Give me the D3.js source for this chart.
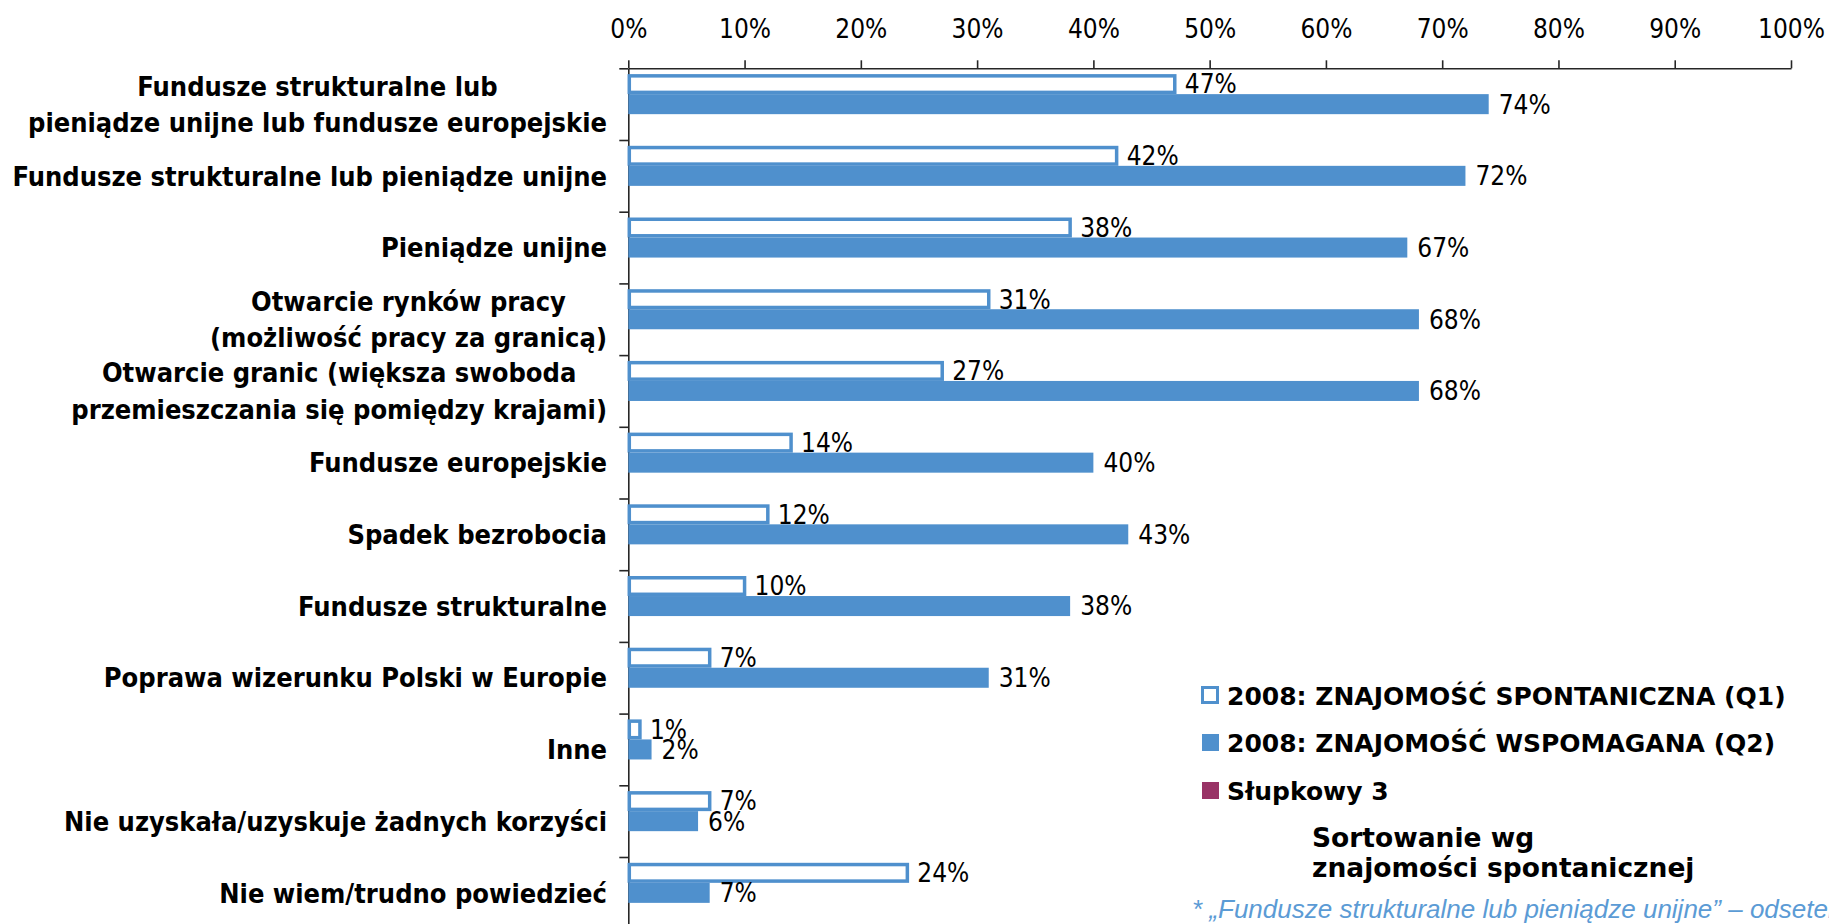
<!DOCTYPE html>
<html>
<head>
<meta charset="utf-8">
<script src="https://cdn.jsdelivr.net/npm/d3@7"></script>
<style>
  body { margin: 0; background: #fff; }
  svg { display: block; }
</style>
</head>
<body>
<svg id="chart"></svg>
<script>
// data
const categories = [
  ["Fundusze strukturalne lub", "pieniądze unijne lub fundusze europejskie"],
  ["Fundusze strukturalne lub pieniądze unijne"],
  ["Pieniądze unijne"],
  ["Otwarcie rynków pracy", "(możliwość pracy za granicą)"],
  ["Otwarcie granic (większa swoboda", "przemieszczania się pomiędzy krajami)"],
  ["Fundusze europejskie"],
  ["Spadek bezrobocia"],
  ["Fundusze strukturalne"],
  ["Poprawa wizerunku Polski w Europie"],
  ["Inne"],
  ["Nie uzyskała/uzyskuje żadnych korzyści"],
  ["Nie wiem/trudno powiedzieć"]
];
const spontaneous = [47, 42, 38, 31, 27, 14, 12, 10, 7, 1, 7, 24];
const prompted = [74, 72, 67, 68, 68, 40, 43, 38, 31, 2, 6, 7];
const seriesNames = ["2008: ZNAJOMOŚĆ SPONTANICZNA (Q1)", "2008: ZNAJOMOŚĆ WSPOMAGANA (Q2)", "Słupkowy 3"];
const seriesKeys = ["q1", "q2", "s3"];
const xTicks = [0, 10, 20, 30, 40, 50, 60, 70, 80, 90, 100];
const sortNote = ["Sortowanie wg", "znajomości spontanicznej"];
const footnote = "* \u201eFundusze strukturalne lub pieniądze unijne\u201d \u2013 odsetek wskazań łącznie";

const width = 1829, height = 924;
const blue = "#4F90CD", magenta = "#993366";
const condensed = "'DejaVu Sans Condensed', 'DejaVu Sans', sans-serif";
const wide = "'DejaVu Sans', sans-serif";

const svg = d3.select("#chart").attr("width", width).attr("height", height);

const plotTop = 68.3, step = 71.7;

const x = d3.scaleLinear().domain([0, 100]).range([628.3, 1791]);
const y = d3.scaleBand()
  .domain(d3.range(categories.length))
  .range([plotTop, plotTop + step * categories.length])
  .padding(0);
const ySub = d3.scaleBand()
  .domain(seriesKeys)
  .range([0, y.bandwidth()])
  .paddingInner(0)
  .paddingOuter(0.29);
const yEdge = d3.scaleLinear()
  .domain([0, categories.length])
  .range([plotTop, plotTop + step * categories.length]);

// top axis
const xAxis = svg.append("g")
  .attr("transform", `translate(0, ${plotTop})`)
  .call(d3.axisTop(x).tickValues(xTicks).tickFormat(d => d + "%")
    .tickSize(8).tickSizeOuter(0).tickPadding(22));
xAxis.selectAll("text")
  .attr("font-family", condensed)
  .attr("font-size", 26)
  .attr("fill", "#000");

// category axis: ticks sit on the band edges
const yAxis = svg.append("g")
  .attr("transform", `translate(${x(0)}, 0)`)
  .call(d3.axisLeft(yEdge).tickValues(d3.range(categories.length + 1))
    .tickFormat("").tickSize(9).tickSizeOuter(0));

svg.selectAll(".domain, .tick line")
  .attr("stroke", "#262626")
  .attr("stroke-width", 1.6);

// prompted (filled) bars
svg.append("g").selectAll("rect")
  .data(prompted)
  .join("rect")
  .attr("x", x(0))
  .attr("y", (d, i) => y(i) + ySub("q2"))
  .attr("width", d => x(d) - x(0))
  .attr("height", ySub.bandwidth())
  .attr("fill", blue);

// spontaneous (hollow) bars
svg.append("g").selectAll("rect")
  .data(spontaneous)
  .join("rect")
  .attr("x", x(0) + 1)
  .attr("y", (d, i) => y(i) + ySub("q1") + 1.75)
  .attr("width", d => x(d) - x(0) - 1)
  .attr("height", ySub.bandwidth() - 3.5)
  .attr("fill", "#fff")
  .attr("stroke", blue)
  .attr("stroke-width", 3.5);

// value labels
function valueLabels(values, key) {
  svg.append("g").selectAll("text")
    .data(values)
    .join("text")
    .attr("x", d => x(d) + 10)
    .attr("y", (d, i) => y(i) + ySub(key) + ySub.bandwidth() / 2)
    .attr("dy", "0.36em")
    .attr("font-family", condensed)
    .attr("font-size", 26)
    .attr("fill", "#000")
    .text(d => d + "%");
}
valueLabels(spontaneous, "q1");
valueLabels(prompted, "q2");

// category labels, lines centred within a right-aligned block
const labelRight = 607, lineGap = 36.5;
const labels = svg.append("g").selectAll("text")
  .data(categories)
  .join("text")
  .attr("font-family", condensed)
  .attr("font-weight", "bold")
  .attr("font-size", 27)
  .attr("fill", "#000")
  .attr("text-anchor", "middle");

labels.each(function(lines, i) {
  const t = d3.select(this);
  const cy = y(i) + y.bandwidth() / 2;
  const spans = t.selectAll("tspan").data(lines).join("tspan")
    .attr("y", (d, k) => cy + (k - (lines.length - 1) / 2) * lineGap)
    .attr("dy", "0.36em")
    .text(d => d);
  let maxW = 0;
  spans.each(function() { maxW = Math.max(maxW, this.getComputedTextLength()); });
  spans.attr("x", labelRight - maxW / 2);
});

// legend
const legend = svg.append("g");
const legendX = 1201, legendBase = [705, 752, 800];
seriesNames.forEach((name, i) => {
  const box = legend.append("rect")
    .attr("x", i === 0 ? legendX + 1.5 : legendX + 1)
    .attr("y", legendBase[i] - 19 + (i === 0 ? 1.5 : 1))
    .attr("width", i === 0 ? 15 : 17)
    .attr("height", i === 0 ? 15 : 17);
  if (i === 0) box.attr("fill", "#fff").attr("stroke", blue).attr("stroke-width", 3);
  else box.attr("fill", i === 1 ? blue : magenta);
  legend.append("text")
    .attr("x", 1227)
    .attr("y", legendBase[i])
    .attr("font-family", wide)
    .attr("font-weight", "bold")
    .attr("font-size", 25)
    .attr("fill", "#000")
    .text(name);
});

legend.selectAll(".note")
  .data(sortNote)
  .join("text")
  .attr("class", "note")
  .attr("x", 1312)
  .attr("y", (d, i) => 847 + i * 30)
  .attr("font-family", wide)
  .attr("font-weight", "bold")
  .attr("font-size", 26.5)
  .attr("fill", "#000")
  .text(d => d);

svg.append("text")
  .attr("x", 1192)
  .attr("y", 918)
  .attr("font-family", "'Liberation Sans', Arial, sans-serif")
  .attr("font-style", "italic")
  .attr("font-size", 26)
  .attr("fill", "#5B9BD5")
  .text(footnote);
</script>
</body>
</html>
